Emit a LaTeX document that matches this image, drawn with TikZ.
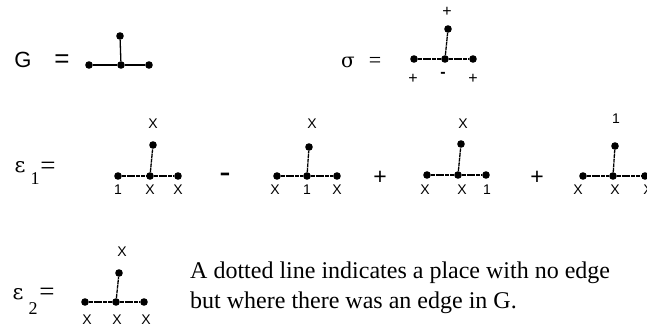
\documentclass[tikz,border=0pt]{standalone}
\usepackage{fontspec}
\setmainfont{Liberation Serif}
\newfontfamily\hv{Liberation Sans}
\newfontfamily\gr{DejaVu Serif}
\newcommand\fs[1]{\fontsize{#1}{#1}\selectfont}
\tikzset{
  dot/.style={circle,fill=black,inner sep=0pt,minimum size=7.6pt},
  solidedge/.style={line width=1.3pt},
  dotedge/.style={line width=1.3pt,dash pattern=on 4pt off 0.7pt},
  lab/.style={inner sep=0pt,font=\hv\fs{14}},
  sgn/.style={inner sep=0pt,font=\hv\fs{16}},
  txt/.style={inner sep=0pt},
  btxt/.style={inner sep=0pt,anchor=base},
}
\newcommand\startree[6]{%
  \node[dot] (#1l) at (#2) {};
  \node[dot] (#1c) at (#3) {};
  \node[dot] (#1r) at (#4) {};
  \node[dot] (#1t) at (#5) {};
  \draw[#6] (#1l) -- (#1c) -- (#1r);
  \draw[#6] (#1c) -- (#1t);
}
\begin{document}
\begin{tikzpicture}[x=1pt,y=-1pt]
\useasboundingbox (0,0) rectangle (647,327);
% G row
\node[txt,font=\hv\fs{22}] (Gname) at (23,60) {G};
\node[txt,font=\hv\fs{26}] (Geq) at (62,61) {=};
\startree{g}{89,65}{121,65}{149,65}{120,36}{solidedge}
% sigma
\node[txt,font=\gr\fs{20}] (sig) at (348,62) {σ};
\node[txt,font=\fs{22}] (sigeq) at (375,62) {=};
\startree{s}{414,59}{445,59}{473,59}{448,29}{dotedge}
\node[sgn] (st) at (447,12) {+};
\node[sgn] (sl) at (413,79) {+};
\node[sgn,font=\hv\bfseries\fs{16}] (sc) at (443,75) {-};
\node[sgn] (sr) at (473,79) {+};
% epsilon 1
\node[btxt,font=\gr\fs{21}] (e1) at (20,172) {ε};
\node[btxt,font=\fs{18}] (e1s) at (35,184) {1};
\node[btxt,font=\fs{27}] (e1eq) at (48,174) {=};
\startree{a}{118,176}{150,176}{178,176}{153,145}{dotedge}
\node[lab] (at) at (153,124) {X};
\node[lab] (al) at (118,190) {1};
\node[lab] (ac) at (150,190) {X};
\node[lab] (ar) at (178,190) {X};
\node[txt,font=\hv\fs{34}] (m1) at (225,178) {-};
\startree{b}{277,176}{307,176}{337,176}{309,147}{dotedge}
\node[lab] (bt) at (312,124) {X};
\node[lab] (bl) at (275,190) {X};
\node[lab] (bc) at (307,190) {1};
\node[lab] (br) at (337,190) {X};
\node[txt,font=\hv\fs{23}] (p1) at (380,178) {+};
\startree{c}{427,175}{458,175}{486,175}{461,144}{dotedge}
\node[lab] (ct) at (463,124) {X};
\node[lab] (cl) at (425,190) {X};
\node[lab] (cc) at (462,190) {X};
\node[lab] (cr) at (487,190) {1};
\node[txt,font=\hv\fs{23}] (p2) at (537,178) {+};
\startree{d}{583,176}{613,176}{645,176}{615,146}{dotedge}
\node[lab] (dt) at (616,119) {1};
\node[lab] (dl) at (578,190) {X};
\node[lab] (dc) at (615,190) {X};
\node[lab] (dr) at (648,190) {X};
% epsilon 2
\node[btxt,font=\gr\fs{21}] (e2) at (18,299) {ε};
\node[btxt,font=\fs{18}] (e2s) at (33,314) {2};
\node[btxt,font=\fs{27}] (e2eq) at (47,300) {=};
\startree{e}{85,302}{116,302}{144,302}{119,273}{dotedge}
\node[lab] (et) at (122,252) {X};
\node[lab] (el) at (87,320) {X};
\node[lab] (ec) at (117,320) {X};
\node[lab] (er) at (146,320) {X};
% note
\node[txt,anchor=base west,align=left,font=\fontsize{24}{30}\selectfont] (note) at (190,308)
  {A dotted line indicates a place with no edge\\but where there was an edge in G.};
\end{tikzpicture}
\end{document}
